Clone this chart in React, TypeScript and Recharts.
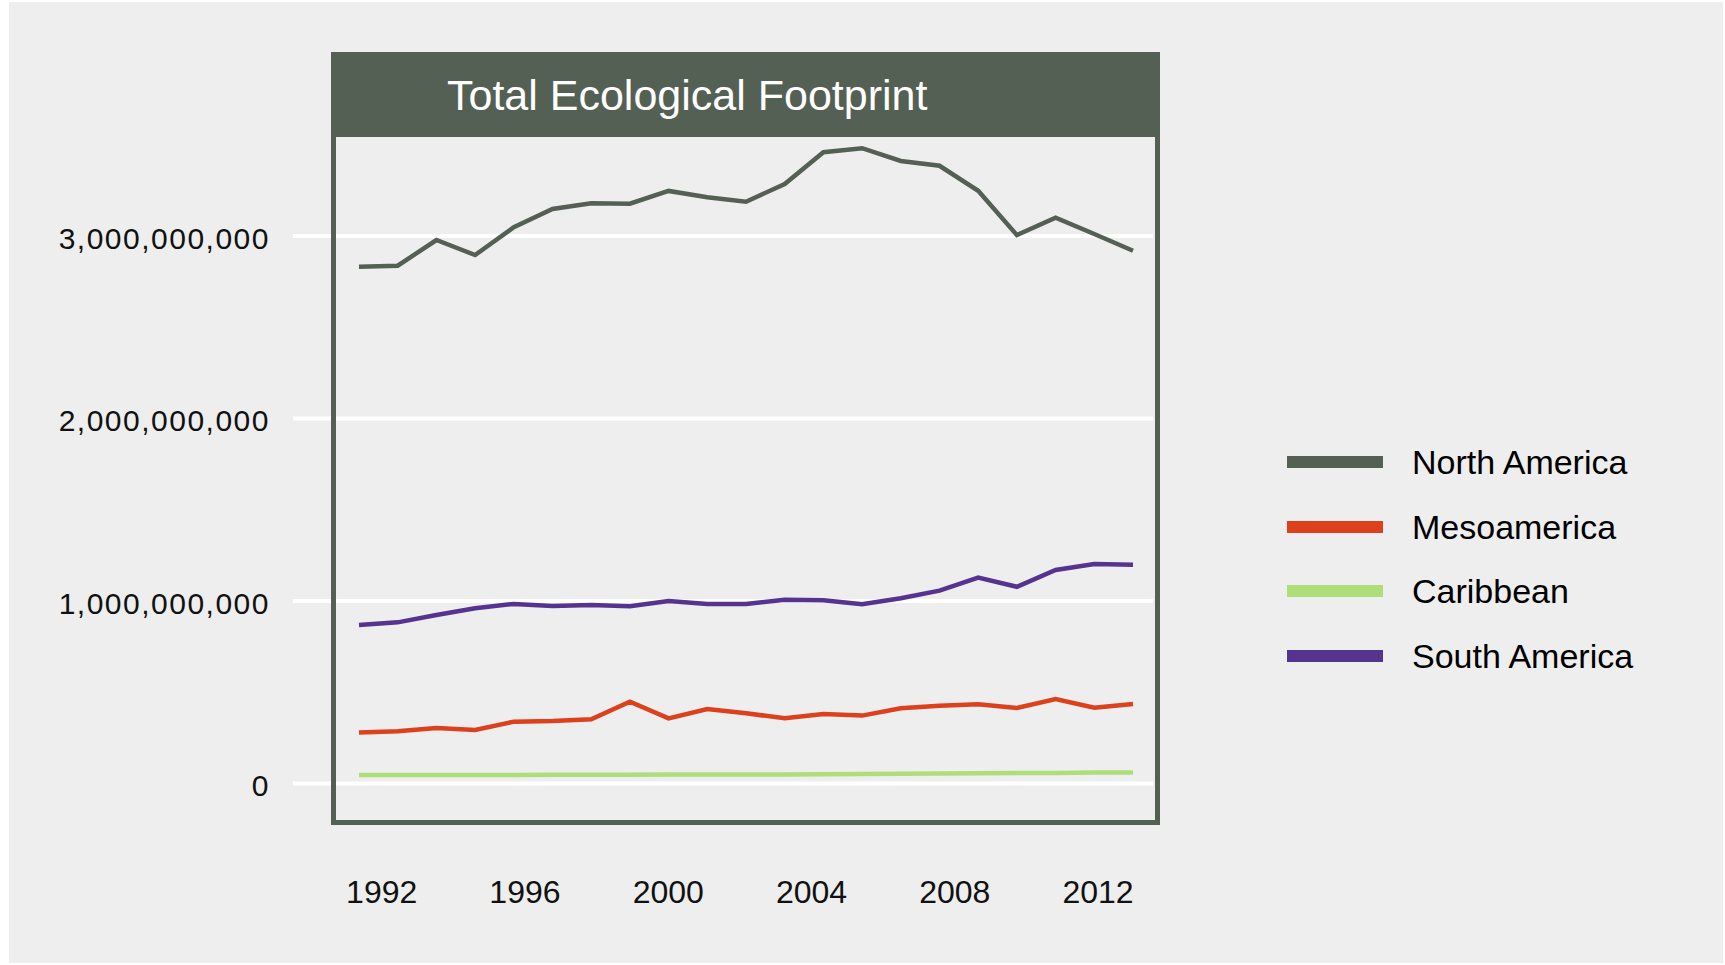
import React from "react";
import { LineChart, Line, XAxis, YAxis, CartesianGrid, Legend } from "recharts";

// Total ecological footprint by region (global hectares), 1991–2011
const years = [
  1991, 1992, 1993, 1994, 1995, 1996, 1997, 1998, 1999, 2000, 2001, 2002, 2003,
  2004, 2005, 2006, 2007, 2008, 2009, 2010, 2011,
];

const northAmerica = [
  2832e6, 2837e6, 2978e6, 2896e6, 3048e6, 3148e6, 3179e6, 3177e6, 3247e6,
  3212e6, 3188e6, 3285e6, 3459e6, 3481e6, 3411e6, 3385e6, 3248e6, 3005e6,
  3100e6, 3011e6, 2919e6,
];

const mesoamerica = [
  280e6, 286e6, 304e6, 293e6, 339e6, 342e6, 352e6, 448e6, 357e6, 408e6, 385e6,
  357e6, 381e6, 372e6, 412e6, 426e6, 434e6, 414e6, 463e6, 415e6, 436e6,
];

const caribbean = [
  46e6, 46e6, 46e6, 46e6, 47e6, 48e6, 48e6, 48e6, 49e6, 49e6, 50e6, 50e6, 51e6,
  52e6, 53e6, 55e6, 56e6, 57e6, 58e6, 60e6, 60e6,
];

const southAmerica = [
  868e6, 883e6, 923e6, 960e6, 984e6, 973e6, 978e6, 971e6, 1000e6, 984e6, 984e6,
  1007e6, 1004e6, 982e6, 1015e6, 1057e6, 1128e6, 1078e6, 1170e6, 1203e6,
  1199e6,
];

const yTicks = [0, 1e9, 2e9, 3e9];
const yearTicks = [1992, 1996, 2000, 2004, 2008, 2012];

const series = [
  { key: "northAmerica", name: "North America", color: "#556055", values: northAmerica },
  { key: "mesoamerica", name: "Mesoamerica", color: "#DC401C", values: mesoamerica },
  { key: "caribbean", name: "Caribbean", color: "#ADDE78", values: caribbean },
  { key: "southAmerica", name: "South America", color: "#56338F", values: southAmerica },
];

const data = years.map((year, i) => {
  const row: Record<string, number> = { year };
  series.forEach((s) => {
    row[s.key] = s.values[i];
  });
  return row;
});

const FONT = "'Liberation Sans', Arial, Helvetica, sans-serif";
const PANEL = "#556055";

function LegendContent(props: any) {
  const order = series.map((s) => s.name);
  const items = [...(props.payload || [])].sort(
    (a: any, b: any) => order.indexOf(a.value) - order.indexOf(b.value)
  );
  return (
    <div style={{ fontFamily: FONT }}>
      {items.map((it: any) => (
        <div
          key={it.value}
          style={{ display: "flex", alignItems: "center", height: 64.5 }}
        >
          <div style={{ width: 96, height: 12, background: it.color }} />
          <span
            style={{
              marginLeft: 29,
              fontSize: 34,
              lineHeight: "40px",
              color: "#000",
              whiteSpace: "nowrap",
            }}
          >
            {it.value}
          </span>
        </div>
      ))}
    </div>
  );
}

export default function App() {
  return (
    <div
      style={{
        position: "absolute",
        left: 0,
        top: 0,
        width: 1725,
        height: 965,
        background: "#ffffff",
        overflow: "hidden",
      }}
    >
      <div
        style={{
          position: "absolute",
          left: 9,
          top: 2,
          width: 1714,
          height: 961,
          background: "#eeeeee",
        }}
      />
      <div style={{ position: "absolute", left: 0, top: 0 }}>
        <LineChart
          width={1725}
          height={965}
          data={data}
          margin={{ top: 126.5, right: 572, bottom: 45, left: 53 }}
        >
          <CartesianGrid
            xAxisId="data"
            vertical={false}
            horizontalValues={yTicks}
            stroke="#ffffff"
            strokeWidth={4}
          />
          <XAxis
            xAxisId="data"
            dataKey="year"
            type="number"
            domain={[1989.2946, 2011.5168]}
            allowDataOverflow
            hide
          />
          <XAxis
            xAxisId="years"
            dataKey="year"
            type="number"
            domain={[1989.523, 2013.536]}
            allowDataOverflow
            ticks={yearTicks}
            interval={0}
            axisLine={false}
            tickLine={false}
            tickSize={0}
            tickMargin={30}
            height={100}
            tick={{ fontSize: 32, fill: "#111", fontFamily: FONT }}
          />
          <YAxis
            type="number"
            domain={[-2e8, 3.6e9]}
            allowDataOverflow
            ticks={yTicks}
            interval={0}
            width={240}
            axisLine={false}
            tickLine={false}
            tickSize={0}
            tickMargin={23}
            tickFormatter={(v: number) => v.toLocaleString("en-US")}
            tick={{
              fontSize: 30,
              fill: "#111",
              fontFamily: FONT,
              dy: 2,
              style: { letterSpacing: "1.5px" },
            }}
          />
          {series.map((s) => (
            <Line
              key={s.key}
              xAxisId="data"
              dataKey={s.key}
              name={s.name}
              type="linear"
              stroke={s.color}
              strokeWidth={4.5}
              dot={false}
              activeDot={false}
              isAnimationActive={false}
            />
          ))}
          <Legend
            layout="vertical"
            align="center"
            verticalAlign="middle"
            content={<LegendContent />}
            wrapperStyle={{ left: 1287, top: 429.75, width: 400 }}
          />
        </LineChart>
      </div>
      {/* panel frame and title bar */}
      <div
        style={{
          position: "absolute",
          left: 331,
          top: 52,
          width: 829,
          height: 773,
          boxSizing: "border-box",
          border: `5px solid ${PANEL}`,
          pointerEvents: "none",
        }}
      />
      <div
        style={{
          position: "absolute",
          left: 331,
          top: 52,
          width: 829,
          height: 85,
          background: PANEL,
        }}
      />
      <div
        style={{
          position: "absolute",
          left: 447,
          top: 71,
          fontFamily: FONT,
          fontSize: 43,
          lineHeight: "48px",
          color: "#ffffff",
          whiteSpace: "nowrap",
        }}
      >
        Total Ecological Footprint
      </div>
    </div>
  );
}
